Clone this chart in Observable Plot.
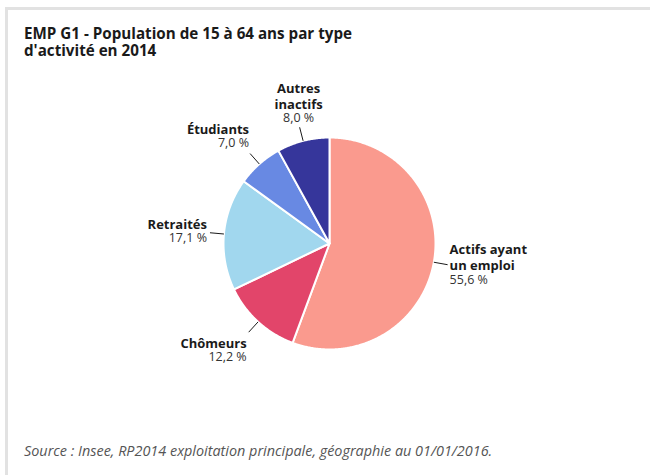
<!DOCTYPE html>
<html><head><meta charset="utf-8">
<script src="https://cdn.jsdelivr.net/npm/d3@7"></script>
<script src="https://cdn.jsdelivr.net/npm/@observablehq/plot@0.6"></script>
<style>
body{margin:0;background:#fff;font-family:"Open Sans",sans-serif;width:650px;height:475px;overflow:hidden;position:relative;}
#frame{position:absolute;left:5px;top:7px;width:645px;height:468px;border-top:3px solid #e2e2e2;border-left:3px solid #e2e2e2;box-sizing:border-box;}
#title{position:absolute;left:24px;top:25px;font-size:15.2px;font-weight:700;line-height:17px;color:#1a1a1a;}
#chart{position:absolute;left:0;top:65px;}
#caption{position:absolute;left:24px;top:441px;font-size:14.4px;font-style:italic;color:#555;}
</style></head>
<body>
<div id="frame"></div>
<div id="title">EMP G1 - Population de 15 à 64 ans par type<br>d'activité en 2014</div>
<div id="chart"></div>
<div id="caption">Source : Insee, RP2014 exploitation principale, géographie au 01/01/2016.</div>
<script>
const categories = ["Actifs ayant un emploi", "Chômeurs", "Retraités", "Étudiants", "Autres inactifs"];
const nameLines = ["Actifs ayant\nun emploi", "Chômeurs", "Retraités", "Étudiants", "Autres\ninactifs"];
const values = [55.6, 12.2, 17.1, 7.0, 8.0];
const colors = ["#fa9a8e", "#e2456a", "#a1d7ee", "#6889e3", "#36369b"];

// layout / style (not data)
const W = 650, H = 355, CX = 329, CY = 178, R = 106, LEAD = 120 / 106;
const FS = 13, VFS = 12.5;
const labelStyle = [
  {anchor: "start", dx: 2, nameDy: -17.5, valueDy: 15},
  {anchor: "end", dx: -2, nameDy: 9.5, valueDy: 24.5},
  {anchor: "end", dx: -3, nameDy: -10, valueDy: 4.5},
  {anchor: "end", dx: -1, nameDy: -26.5, valueDy: -10.5},
  {anchor: "middle", dx: -1, nameDy: -41, valueDy: -9.5}
];

const fmt = v => v.toFixed(1).replace(".", ",") + " %";
const arcs = d3.pie().sort(null).value(d => d)(values);
const STEP = Math.PI / 360;
const slicePts = arcs.flatMap((a, i) => {
  const cat = categories[i];
  const pts = [{cat, x: 0, y: 0}];
  const n = Math.max(2, Math.ceil((a.endAngle - a.startAngle) / STEP));
  for (let k = 0; k <= n; k++) {
    const t = a.startAngle + (a.endAngle - a.startAngle) * k / n;
    pts.push({cat, x: Math.sin(t), y: Math.cos(t)});
  }
  pts.push({cat, x: 0, y: 0});
  return pts;
});
const labels = arcs.map((a, i) => {
  const m = (a.startAngle + a.endAngle) / 2;
  return {
    cat: categories[i], name: nameLines[i], value: fmt(values[i]),
    x1: Math.sin(m), y1: Math.cos(m),
    x2: LEAD * Math.sin(m), y2: LEAD * Math.cos(m)
  };
});

const textMarks = labels.flatMap((d, i) => {
  const s = labelStyle[i];
  return [
    Plot.text([d], {x: "x2", y: "y2", text: "name", textAnchor: s.anchor, lineAnchor: "top",
      dx: s.dx, dy: s.nameDy - 0.357 * FS, lineHeight: 16 / FS, fontSize: FS, fontWeight: 700, fill: "#1a1a1a"}),
    Plot.text([d], {x: "x2", y: "y2", text: "value", textAnchor: s.anchor, lineAnchor: "top",
      dx: s.dx, dy: s.valueDy - 0.357 * VFS, fontSize: VFS, fill: "#333"})
  ];
});

const chart = Plot.plot({
  width: W, height: H, margin: 0,
  style: {fontFamily: "'Open Sans', sans-serif", background: "transparent"},
  x: {domain: [-CX / R, (W - CX) / R], range: [0, W], axis: null},
  y: {domain: [-(H - CY) / R, CY / R], range: [H, 0], axis: null},
  color: {domain: categories, range: colors},
  marks: [
    Plot.line(slicePts, {x: "x", y: "y", z: "cat", fill: "cat", stroke: "white", strokeWidth: 2, strokeLinejoin: "round"}),
    Plot.link(labels, {x1: "x1", y1: "y1", x2: "x2", y2: "y2", stroke: "#1a1a1a", strokeWidth: 1}),
    ...textMarks
  ]
});
document.getElementById("chart").appendChild(chart);
</script>
</body></html>
